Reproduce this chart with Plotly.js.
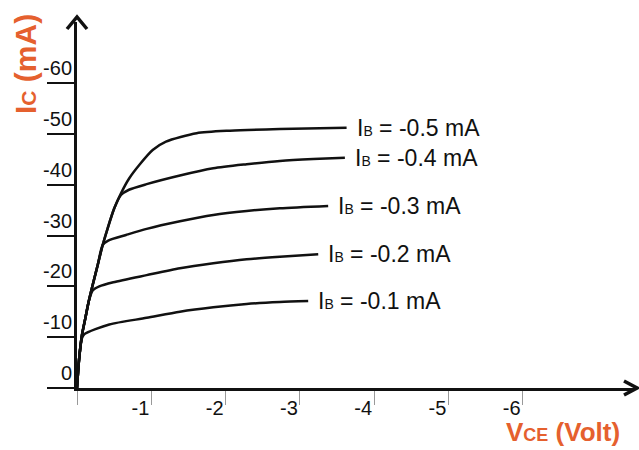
<!DOCTYPE html>
<html>
<head>
<meta charset="utf-8">
<script src="https://cdn.plot.ly/plotly-3.0.1.min.js"></script>
<style>html,body{margin:0;padding:0;background:#fff;}#chart{width:639px;height:450px;}</style>
</head>
<body>
<div id="chart"></div>
<script>
// Base current labels (mA)
const baseCurrents = ["-0.1", "-0.2", "-0.3", "-0.4", "-0.5"];

// Collector-emitter voltage (V) and collector current (mA) for each curve
const vce_01 = [0, -0.027, -0.067, -0.1, -0.435, -0.938, -1.386, -1.835, -2.284, -2.732, -3.113];
const ic_01  = [0, -5.5, -9.8, -10.6, -12.5, -13.8, -15.01, -15.88, -16.53, -16.92, -17.12];

const vce_02 = [0, -0.027, -0.067, -0.112, -0.157, -0.211, -0.3, -0.489, -0.938, -1.386, -1.835, -2.284, -2.732, -3.248];
const ic_02  = [0, -5.5, -10.43, -13.71, -16.98, -19.2, -20.0, -20.8, -22.2, -23.55, -24.53, -25.32, -25.83, -26.3];

const vce_03 = [0, -0.027, -0.067, -0.112, -0.157, -0.211, -0.279, -0.346, -0.42, -0.66, -0.938, -1.386, -1.835, -2.284, -2.732, -3.382];
const ic_03  = [0, -5.5, -10.43, -13.71, -16.98, -20.26, -24.2, -28.13, -29.0, -30.1, -31.3, -32.8, -34.04, -34.82, -35.35, -35.81];

const vce_04 = [0, -0.027, -0.067, -0.112, -0.157, -0.211, -0.279, -0.346, -0.413, -0.502, -0.592, -0.7, -0.938, -1.386, -1.835, -2.284, -2.732, -3.18, -3.607];
const ic_04  = [0, -5.5, -10.43, -13.71, -16.98, -20.26, -24.2, -28.13, -31.42, -35.35, -37.97, -39.0, -40.1, -41.8, -43.22, -44.01, -44.66, -45.05, -45.31];

const vce_05 = [0, -0.027, -0.067, -0.112, -0.157, -0.211, -0.279, -0.346, -0.413, -0.502, -0.592, -0.704, -0.838, -1.019, -1.198, -1.611, -2.059, -2.732, -3.63];
const ic_05  = [0, -5.5, -10.43, -13.71, -16.98, -20.26, -24.2, -28.13, -31.42, -35.35, -38.3, -41.26, -43.87, -46.82, -48.46, -50.11, -50.62, -50.95, -51.21];

// Axis ticks
const xTickVals = [0, -1, -2, -3, -4, -5, -6];
const xTickText = ["", "-1", "-2", "-3", "-4", "-5", "-6"];
const yTickVals = [0, -10, -20, -30, -40, -50, -60];
const yTickText = ["0", "-10", "-20", "-30", "-40", "-50", "-60"];

const seriesX = [vce_01, vce_02, vce_03, vce_04, vce_05];
const seriesY = [ic_01, ic_02, ic_03, ic_04, ic_05];

const ORANGE = "#e5602e";
const FONT = "Liberation Sans, Arial, sans-serif";

const traces = seriesX.map((xs, i) => ({
  x: xs, y: seriesY[i], type: "scatter", mode: "lines",
  line: {color: "#111", width: 2.5, shape: "spline", smoothing: 0.7},
  hoverinfo: "skip", showlegend: false
}));

const annotations = seriesX.map((xs, i) => ({
  x: xs[xs.length - 1], y: seriesY[i][seriesY[i].length - 1],
  xref: "x", yref: "y", xanchor: "left", yanchor: "middle", xshift: 8,
  showarrow: false,
  text: 'I<span style="font-size:14px">B</span> = ' + baseCurrents[i] + ' mA',
  font: {family: FONT, size: 23, color: "#111"}
}));

annotations.push({
  xref: "paper", yref: "paper", x: 0, y: 1, xshift: -52, yshift: 10,
  xanchor: "center", yanchor: "top",
  textangle: -90, showarrow: false,
  text: 'I<span style="font-size:21px">C</span> (mA)',
  font: {family: FONT, size: 30, color: ORANGE, weight: "bold"}
});
annotations.push({
  xref: "paper", yref: "paper", x: 1.0, y: 0, xanchor: "right", yanchor: "top",
  xshift: -12, yshift: -27,
  showarrow: false,
  text: 'V<span style="font-size:18px">CE</span> (Volt)',
  font: {family: FONT, size: 26, color: ORANGE, weight: "bold"}
});

const layout = {
  width: 639, height: 450,
  margin: {l: 77, r: 5, t: 22, b: 62},
  paper_bgcolor: "#fff", plot_bgcolor: "#fff",
  font: {family: FONT, color: "#111"},
  showlegend: false,
  xaxis: {
    range: [0, -7.5], showgrid: false, zeroline: false,
    showline: true, linecolor: "#111", linewidth: 3,
    tickvals: xTickVals, ticktext: xTickText,
    ticks: "outside", ticklen: 14, tickwidth: 1, tickcolor: "#999",
    ticklabelposition: "outside left",
    tickfont: {family: FONT, size: 20, color: "#111"}
  },
  yaxis: {
    range: [0, -72], showgrid: false, zeroline: false,
    showline: true, linecolor: "#111", linewidth: 3,
    tickvals: yTickVals, ticktext: yTickText,
    ticks: "outside", ticklen: 27, tickwidth: 2, tickcolor: "#111",
    ticklabelposition: "outside top", ticklabelstandoff: -2,
    tickfont: {family: FONT, size: 20, color: "#111"}
  },
  annotations: annotations,
  shapes: [
    {type: "path", xref: "paper", yref: "paper", xsizemode: "pixel", ysizemode: "pixel",
     xanchor: 0, yanchor: 1, path: "M-10,-7 L0,5 L10,-7",
     line: {color: "#111", width: 3.5}},
    {type: "path", xref: "paper", yref: "paper", xsizemode: "pixel", ysizemode: "pixel",
     xanchor: 1, yanchor: 0, path: "M-10,7 L3,0 L-10,-7",
     line: {color: "#111", width: 3.5}}
  ]
};

Plotly.newPlot("chart", traces, layout, {displayModeBar: false, staticPlot: true});
</script>
</body>
</html>
